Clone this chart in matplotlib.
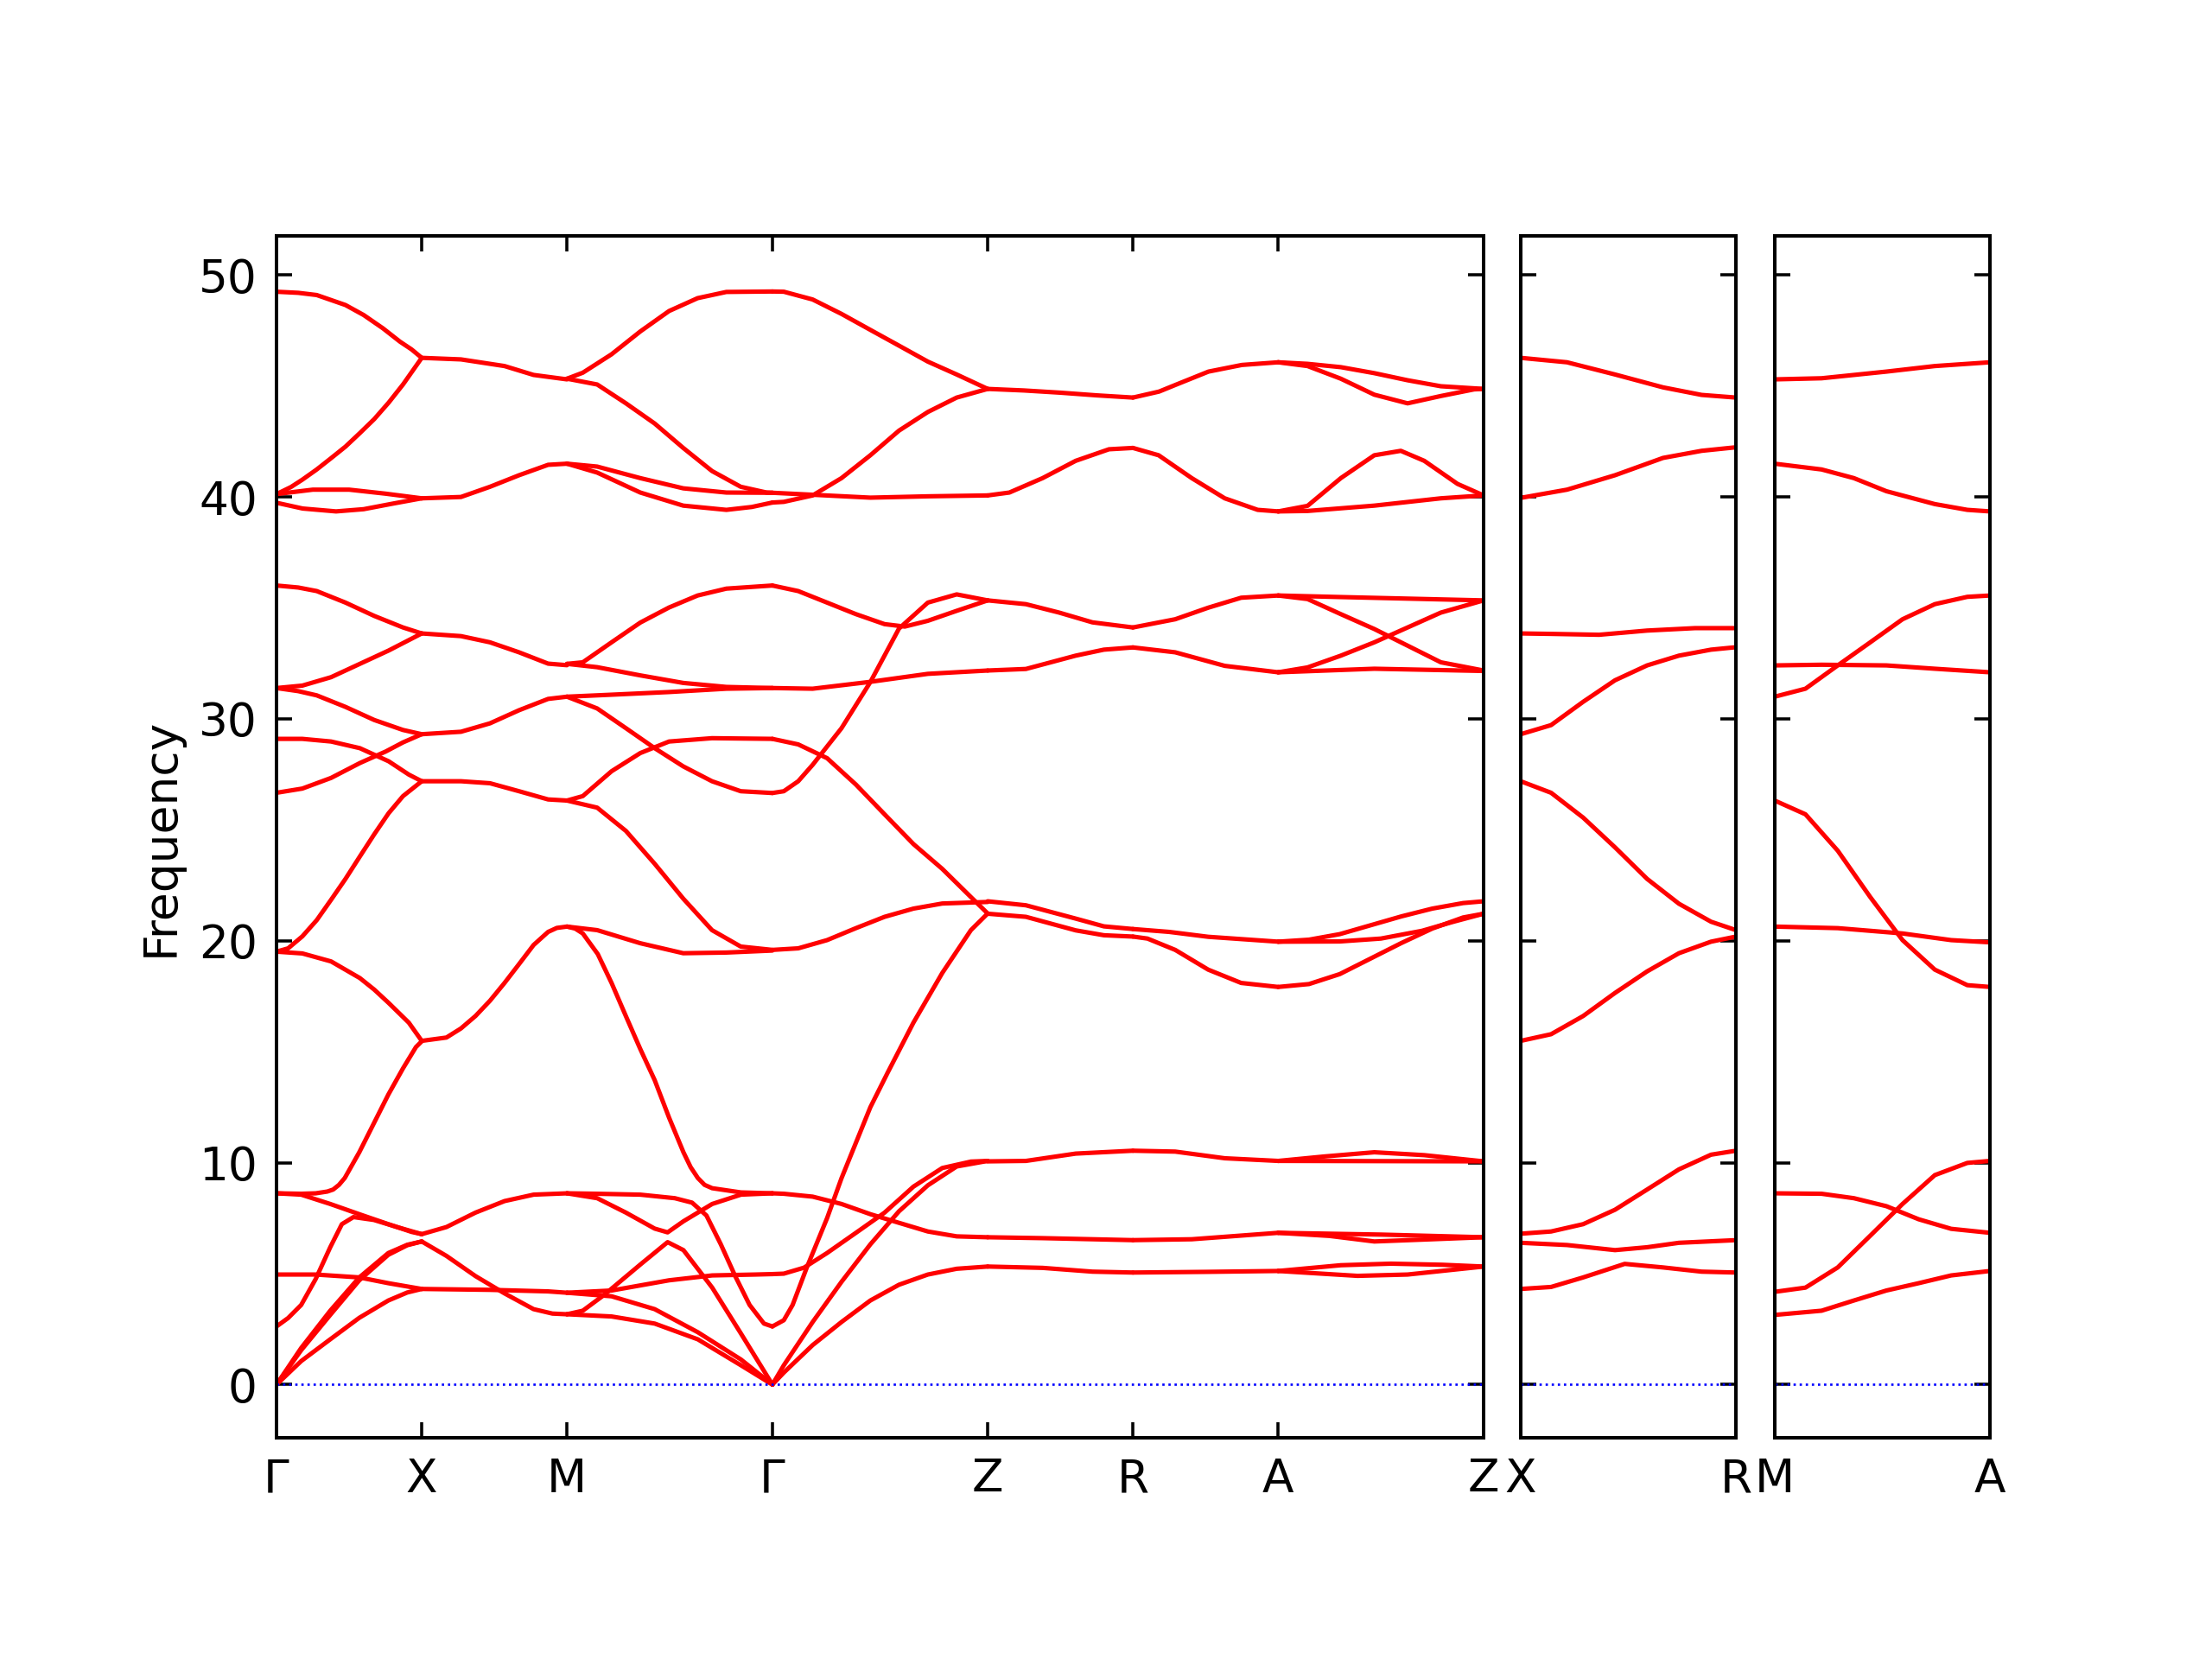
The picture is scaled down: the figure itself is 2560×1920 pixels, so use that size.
import numpy as np
import matplotlib
matplotlib.use("Agg")
import matplotlib.pyplot as plt

plt.rcParams['font.family'] = ['DejaVu Sans']
plt.rcParams['font.size'] = 12

# ---------------- path description ----------------
labels_main = ['Γ', 'X', 'M', 'Γ', 'Z', 'R', 'A', 'Z']
labels_XR = ['X', 'R']
labels_MA = ['M', 'A']
c_ratio = 1.4825
seg_len_main = [1.0, 1.0, 2 ** 0.5, c_ratio, 1.0, 1.0, 2 ** 0.5]
yticks = [0, 10, 20, 30, 40, 50]
ylim = (-2.40, 51.75)

# ---------------- band data: (fraction along segment, frequency) ----------------
seg_GX = [
    [(0, 49.25), (0.15, 49.2), (0.277, 49.1), (0.475, 48.65), (0.6, 48.2), (0.733, 47.6), (0.85, 47.0), (0.93, 46.65), (1, 46.27)],
    [(0, 40.13), (0.1, 40.45), (0.178, 40.78), (0.277, 41.24), (0.376, 41.75), (0.475, 42.27), (0.574, 42.88), (0.673, 43.51), (0.772, 44.25), (0.871, 45.07), (1, 46.27)],
    [(0, 40.13), (0.25, 40.33), (0.5, 40.33), (0.75, 40.15), (1, 39.94)],
    [(0, 39.74), (0.18, 39.48), (0.41, 39.35), (0.6, 39.45), (0.8, 39.7), (1, 39.94)],
    [(0, 36.01), (0.15, 35.92), (0.277, 35.76), (0.475, 35.24), (0.673, 34.64), (0.871, 34.12), (1, 33.85)],
    [(0, 31.39), (0.178, 31.5), (0.376, 31.88), (0.574, 32.48), (0.772, 33.08), (1, 33.85)],
    [(0, 31.39), (0.15, 31.25), (0.277, 31.06), (0.475, 30.54), (0.673, 29.95), (0.871, 29.5), (1, 29.31)],
    [(0, 29.1), (0.178, 29.1), (0.376, 28.98), (0.574, 28.68), (0.772, 28.09), (0.911, 27.49), (1, 27.19)],
    [(0, 26.67), (0.178, 26.86), (0.376, 27.34), (0.574, 28.01), (0.752, 28.53), (0.871, 28.94), (1, 29.31)],
    [(0, 19.51), (0.08, 19.66), (0.178, 20.2), (0.277, 20.93), (0.376, 21.85), (0.475, 22.79), (0.574, 23.8), (0.673, 24.8), (0.772, 25.75), (0.871, 26.52), (1, 27.19)],
    [(0, 19.51), (0.178, 19.43), (0.376, 19.07), (0.574, 18.32), (0.673, 17.8), (0.772, 17.2), (0.911, 16.31), (1, 15.49)],
    [(0, 8.62), (0.17, 8.6), (0.27, 8.62), (0.35, 8.7), (0.39, 8.79), (0.43, 9.0), (0.47, 9.31), (0.57, 10.47), (0.67, 11.77), (0.77, 13.07), (0.87, 14.24), (0.96, 15.21), (1, 15.47)],
    [(0, 8.62), (0.17, 8.56), (0.37, 8.14), (0.57, 7.68), (0.77, 7.23), (0.93, 6.88), (1, 6.78)],
    [(0, 2.62), (0.08, 3.0), (0.17, 3.59), (0.27, 4.76), (0.37, 6.19), (0.45, 7.23), (0.53, 7.55), (0.67, 7.42), (0.83, 7.1), (1, 6.78)],
    [(0, 0), (0.17, 1.65), (0.37, 3.33), (0.57, 4.83), (0.77, 5.93), (0.9, 6.3), (1, 6.45)],
    [(0, 0), (0.17, 1.55), (0.37, 3.14), (0.57, 4.7), (0.77, 5.85), (0.9, 6.28), (1, 6.45)],
    [(0, 0), (0.17, 1.06), (0.37, 2.04), (0.57, 3.01), (0.77, 3.79), (0.9, 4.15), (1, 4.31)],
    [(0, 4.96), (0.27, 4.96), (0.57, 4.83), (0.77, 4.57), (1, 4.31)],
]

seg_XM = [
    [(0, 46.27), (0.27, 46.2), (0.57, 45.9), (0.77, 45.5), (1, 45.3)],
    [(0, 39.94), (0.27, 40.0), (0.47, 40.46), (0.67, 40.98), (0.87, 41.45), (1, 41.5)],
    [(0, 33.85), (0.27, 33.73), (0.47, 33.45), (0.67, 33.0), (0.87, 32.49), (1, 32.42)],
    [(0, 29.31), (0.27, 29.42), (0.47, 29.8), (0.67, 30.39), (0.87, 30.9), (1, 31.0)],
    [(0, 27.19), (0.27, 27.19), (0.47, 27.1), (0.67, 26.74), (0.87, 26.37), (1, 26.32)],
    [(0, 15.49), (0.17, 15.64), (0.27, 16.05), (0.37, 16.61), (0.47, 17.3), (0.57, 18.1), (0.67, 18.95), (0.77, 19.81), (0.87, 20.4), (0.93, 20.58), (1, 20.64)],
    [(0, 6.78), (0.17, 7.1), (0.37, 7.75), (0.57, 8.27), (0.77, 8.56), (1, 8.62)],
    [(0, 6.45), (0.17, 5.8), (0.37, 4.89), (0.57, 4.11), (0.77, 3.4), (0.9, 3.2), (1, 3.17)],
    [(0, 4.31), (0.47, 4.27), (0.87, 4.2), (1, 4.14)],
]

seg_MG = [
    [(0, 45.33), (0.077, 45.6), (0.217, 46.43), (0.357, 47.46), (0.497, 48.38), (0.636, 48.96), (0.776, 49.24), (1, 49.26)],
    [(0, 45.33), (0.147, 45.07), (0.287, 44.22), (0.427, 43.31), (0.566, 42.21), (0.706, 41.17), (0.846, 40.46), (0.972, 40.2), (1, 40.19)],
    [(0, 41.5), (0.147, 41.37), (0.357, 40.85), (0.566, 40.39), (0.776, 40.2), (1, 40.19)],
    [(0, 41.5), (0.147, 41.1), (0.357, 40.2), (0.566, 39.61), (0.776, 39.42), (0.9, 39.55), (1, 39.75)],
    [(0, 32.48), (0.077, 32.55), (0.217, 33.45), (0.357, 34.34), (0.497, 35.02), (0.636, 35.56), (0.776, 35.87), (1, 36.01)],
    [(0, 32.48), (0.147, 32.33), (0.357, 31.96), (0.566, 31.62), (0.776, 31.44), (1, 31.39)],
    [(0, 31.0), (0.217, 31.09), (0.497, 31.21), (0.776, 31.36), (1, 31.39)],
    [(0, 31.0), (0.147, 30.47), (0.287, 29.58), (0.427, 28.68), (0.566, 27.86), (0.706, 27.19), (0.846, 26.74), (1, 26.66)],
    [(0, 26.32), (0.077, 26.52), (0.217, 27.64), (0.357, 28.46), (0.497, 28.98), (0.706, 29.13), (1, 29.1)],
    [(0, 26.32), (0.147, 26.0), (0.287, 24.95), (0.427, 23.47), (0.566, 21.9), (0.706, 20.48), (0.846, 19.74), (1, 19.59)],
    [(0, 20.64), (0.147, 20.48), (0.357, 19.89), (0.566, 19.44), (0.776, 19.47), (1, 19.56)],
    [(0, 20.64), (0.04, 20.55), (0.077, 20.33), (0.15, 19.4), (0.217, 18.1), (0.287, 16.6), (0.357, 15.12), (0.427, 13.72), (0.497, 12.03), (0.567, 10.47), (0.602, 9.8), (0.637, 9.31), (0.67, 9.0), (0.707, 8.85), (0.847, 8.66), (1, 8.62)],
    [(0, 8.62), (0.147, 8.6), (0.357, 8.56), (0.525, 8.4), (0.609, 8.2), (0.679, 7.62), (0.749, 6.32), (0.819, 4.89), (0.889, 3.59), (0.959, 2.75), (1, 2.62)],
    [(0, 8.62), (0.147, 8.4), (0.287, 7.75), (0.427, 7.03), (0.49, 6.86), (0.567, 7.36), (0.707, 8.14), (0.847, 8.56), (1, 8.62)],
    [(0, 3.17), (0.077, 3.33), (0.182, 4.05), (0.357, 5.41), (0.49, 6.42), (0.567, 6.06), (0.707, 4.37), (0.847, 2.3), (1, 0)],
    [(0, 4.14), (0.217, 4.24), (0.497, 4.7), (0.707, 4.92), (0.917, 4.96), (1, 4.98)],
    [(0, 4.14), (0.217, 3.98), (0.427, 3.4), (0.637, 2.36), (0.847, 1.13), (1, 0)],
    [(0, 3.17), (0.217, 3.07), (0.427, 2.75), (0.637, 2.04), (0.847, 0.87), (1, 0)],
]

seg_GZ = [
    [(0, 49.26), (0.053, 49.25), (0.187, 48.9), (0.321, 48.25), (0.455, 47.53), (0.588, 46.82), (0.722, 46.1), (0.856, 45.52), (1, 44.87)],
    [(0, 39.75), (0.053, 39.78), (0.187, 40.07), (0.321, 40.85), (0.455, 41.88), (0.588, 42.99), (0.722, 43.83), (0.856, 44.48), (1, 44.87)],
    [(0, 40.19), (0.187, 40.1), (0.455, 39.97), (0.722, 40.03), (1, 40.07)],
    [(0, 36.01), (0.12, 35.76), (0.254, 35.24), (0.388, 34.72), (0.521, 34.27), (0.615, 34.16), (0.722, 34.42), (0.856, 34.87), (1, 35.34)],
    [(0, 26.66), (0.053, 26.74), (0.12, 27.19), (0.187, 27.93), (0.321, 29.58), (0.455, 31.66), (0.588, 34.07), (0.722, 35.24), (0.856, 35.61), (1, 35.34)],
    [(0, 31.39), (0.187, 31.36), (0.455, 31.67), (0.722, 32.03), (1, 32.18)],
    [(0, 29.1), (0.12, 28.85), (0.254, 28.23), (0.388, 27.04), (0.521, 25.7), (0.655, 24.36), (0.789, 23.24), (0.922, 21.97), (1, 21.23)],
    [(0, 19.59), (0.12, 19.66), (0.254, 20.03), (0.388, 20.57), (0.521, 21.08), (0.655, 21.45), (0.789, 21.68), (1, 21.75)],
    [(0, 2.62), (0.053, 2.9), (0.094, 3.59), (0.16, 5.28), (0.254, 7.5), (0.321, 9.3), (0.455, 12.5), (0.535, 14.05), (0.655, 16.31), (0.789, 18.55), (0.922, 20.48), (1, 21.23)],
    [(0, 8.62), (0.053, 8.6), (0.187, 8.47), (0.321, 8.14), (0.455, 7.68), (0.588, 7.29), (0.722, 6.9), (0.856, 6.68), (1, 6.64)],
    [(0, 4.98), (0.053, 5.0), (0.147, 5.27), (0.254, 5.93), (0.388, 6.84), (0.521, 7.75), (0.655, 8.92), (0.789, 9.76), (0.922, 10.05), (1, 10.08)],
    [(0, 0), (0.053, 0.87), (0.187, 2.82), (0.321, 4.63), (0.455, 6.32), (0.588, 7.81), (0.722, 8.98), (0.856, 9.83), (1, 10.08)],
    [(0, 0), (0.053, 0.54), (0.187, 1.78), (0.321, 2.82), (0.455, 3.79), (0.588, 4.5), (0.722, 4.96), (0.856, 5.22), (1, 5.32)],
]

seg_ZR = [
    [(0, 44.87), (0.25, 44.8), (0.5, 44.7), (0.75, 44.58), (1, 44.48)],
    [(0, 40.07), (0.149, 40.2), (0.378, 40.85), (0.606, 41.63), (0.835, 42.15), (1, 42.21)],
    [(0, 35.34), (0.263, 35.17), (0.492, 34.79), (0.721, 34.35), (1, 34.12)],
    [(0, 32.18), (0.263, 32.25), (0.606, 32.85), (0.8, 33.12), (1, 33.22)],
    [(0, 21.78), (0.263, 21.6), (0.606, 21.0), (0.8, 20.65), (1, 20.53)],
    [(0, 21.22), (0.263, 21.08), (0.606, 20.47), (0.8, 20.25), (1, 20.19)],
    [(0, 10.06), (0.263, 10.08), (0.606, 10.41), (1, 10.54)],
    [(0, 6.64), (0.378, 6.6), (1, 6.51)],
    [(0, 5.32), (0.378, 5.26), (0.721, 5.09), (1, 5.05)],
]

seg_RA = [
    [(0, 44.48), (0.18, 44.75), (0.3, 45.07), (0.52, 45.65), (0.75, 45.95), (1, 46.07)],
    [(0, 42.21), (0.177, 41.88), (0.405, 40.85), (0.632, 39.94), (0.859, 39.42), (1, 39.35)],
    [(0, 34.12), (0.291, 34.49), (0.518, 35.01), (0.745, 35.46), (1, 35.56)],
    [(0, 33.22), (0.291, 33.0), (0.632, 32.39), (1, 32.1)],
    [(0, 20.53), (0.25, 20.4), (0.518, 20.18), (1, 19.96)],
    [(0, 20.19), (0.1, 20.1), (0.291, 19.59), (0.518, 18.7), (0.745, 18.1), (1, 17.92)],
    [(0, 10.54), (0.291, 10.5), (0.632, 10.2), (1, 10.08)],
    [(0, 6.51), (0.405, 6.55), (1, 6.84)],
    [(0, 5.05), (0.5, 5.08), (1, 5.12)],
]

seg_AZ = [
    [(0, 46.07), (0.143, 46.0), (0.305, 45.85), (0.468, 45.58), (0.63, 45.26), (0.792, 44.99), (1, 44.87)],
    [(0, 46.07), (0.143, 45.9), (0.305, 45.33), (0.468, 44.61), (0.63, 44.22), (0.792, 44.55), (0.954, 44.85), (1, 44.87)],
    [(0, 39.35), (0.143, 39.6), (0.305, 40.85), (0.468, 41.88), (0.597, 42.08), (0.711, 41.63), (0.873, 40.59), (1, 40.07)],
    [(0, 39.35), (0.143, 39.37), (0.468, 39.61), (0.792, 39.94), (1, 40.07)],
    [(0, 35.56), (0.305, 35.49), (0.63, 35.42), (1, 35.34)],
    [(0, 35.56), (0.143, 35.4), (0.305, 34.72), (0.468, 34.05), (0.63, 33.3), (0.792, 32.55), (1, 32.18)],
    [(0, 32.1), (0.143, 32.32), (0.305, 32.85), (0.468, 33.45), (0.63, 34.12), (0.792, 34.79), (1, 35.34)],
    [(0, 32.1), (0.468, 32.26), (1, 32.16)],
    [(0, 19.96), (0.15, 20.05), (0.3, 20.3), (0.45, 20.7), (0.6, 21.1), (0.75, 21.45), (0.9, 21.7), (1, 21.78)],
    [(0, 19.96), (0.3, 19.97), (0.5, 20.1), (0.7, 20.45), (0.85, 20.85), (1, 21.22)],
    [(0, 17.92), (0.15, 18.05), (0.3, 18.5), (0.45, 19.2), (0.6, 19.9), (0.75, 20.55), (0.9, 21.05), (1, 21.22)],
    [(0, 10.08), (0.224, 10.28), (0.468, 10.47), (0.711, 10.34), (1, 10.06)],
    [(0, 10.08), (1, 10.06)],
    [(0, 6.84), (0.5, 6.76), (1, 6.64)],
    [(0, 6.84), (0.25, 6.7), (0.468, 6.45), (0.75, 6.55), (1, 6.64)],
    [(0, 5.12), (0.305, 5.38), (0.549, 5.45), (0.8, 5.4), (1, 5.32)],
    [(0, 5.12), (0.386, 4.9), (0.63, 4.96), (1, 5.32)],
]

panel_XR = [
    [(0, 46.27), (0.215, 46.07), (0.438, 45.52), (0.661, 44.94), (0.84, 44.6), (1, 44.48)],
    [(0, 39.96), (0.215, 40.33), (0.438, 40.98), (0.661, 41.76), (0.84, 42.08), (1, 42.24)],
    [(0, 33.85), (0.141, 33.83), (0.364, 33.79), (0.587, 33.98), (0.81, 34.09), (1, 34.09)],
    [(0, 29.31), (0.141, 29.72), (0.29, 30.77), (0.438, 31.74), (0.587, 32.41), (0.735, 32.85), (0.884, 33.12), (1, 33.23)],
    [(0, 27.19), (0.141, 26.67), (0.29, 25.55), (0.438, 24.21), (0.587, 22.79), (0.735, 21.67), (0.884, 20.86), (1, 20.48)],
    [(0, 15.49), (0.141, 15.79), (0.29, 16.61), (0.438, 17.65), (0.587, 18.62), (0.735, 19.44), (0.884, 19.96), (1, 20.19)],
    [(0, 6.8), (0.141, 6.9), (0.29, 7.23), (0.438, 7.88), (0.587, 8.79), (0.735, 9.7), (0.884, 10.36), (1, 10.54)],
    [(0, 6.39), (0.215, 6.29), (0.438, 6.06), (0.587, 6.19), (0.735, 6.39), (1, 6.51)],
    [(0, 4.31), (0.141, 4.4), (0.29, 4.83), (0.483, 5.44), (0.661, 5.28), (0.84, 5.09), (1, 5.05)],
]

panel_MA = [
    [(0, 45.3), (0.218, 45.35), (0.519, 45.65), (0.744, 45.9), (1, 46.07)],
    [(0, 41.5), (0.218, 41.24), (0.368, 40.85), (0.519, 40.26), (0.744, 39.68), (0.895, 39.42), (1, 39.35)],
    [(0, 32.41), (0.218, 32.44), (0.519, 32.41), (0.744, 32.26), (1, 32.1)],
    [(0, 31.0), (0.143, 31.36), (0.293, 32.41), (0.444, 33.45), (0.594, 34.49), (0.744, 35.17), (0.895, 35.5), (1, 35.56)],
    [(0, 26.32), (0.143, 25.7), (0.293, 24.06), (0.444, 21.97), (0.594, 20.03), (0.744, 18.7), (0.895, 18.0), (1, 17.92)],
    [(0, 20.64), (0.293, 20.57), (0.594, 20.33), (0.82, 20.03), (1, 19.93)],
    [(0, 8.62), (0.218, 8.6), (0.368, 8.4), (0.519, 8.04), (0.669, 7.45), (0.82, 7.02), (1, 6.84)],
    [(0, 4.18), (0.143, 4.37), (0.293, 5.28), (0.444, 6.71), (0.594, 8.14), (0.744, 9.44), (0.895, 9.99), (1, 10.08)],
    [(0, 3.14), (0.218, 3.33), (0.368, 3.79), (0.519, 4.24), (0.669, 4.57), (0.82, 4.92), (1, 5.12)],
]

segments_main = [seg_GX, seg_XM, seg_MG, seg_GZ, seg_ZR, seg_RA, seg_AZ]

# ---------------- figure ----------------
fig = plt.figure(figsize=(8, 6), dpi=320)
ax_main = fig.add_axes([0.125, 0.1333, 0.5457, 0.7243])
ax_xr = fig.add_axes([0.6875, 0.1333, 0.0973, 0.7243])
ax_ma = fig.add_axes([0.8023, 0.1333, 0.0973, 0.7243])

line_kw = dict(color='red', lw=1.15, solid_joinstyle='round', solid_capstyle='round')


def draw_segment(ax, curves, x0, length):
    for cv in curves:
        t = np.array([p[0] for p in cv])
        f = np.array([p[1] for p in cv])
        ax.plot(x0 + t * length, f, **line_kw)


bounds = np.concatenate([[0.0], np.cumsum(seg_len_main)])
for i, seg in enumerate(segments_main):
    draw_segment(ax_main, seg, bounds[i], seg_len_main[i])
draw_segment(ax_xr, panel_XR, 0.0, c_ratio)
draw_segment(ax_ma, panel_MA, 0.0, c_ratio)

for ax, xmax in [(ax_main, bounds[-1]), (ax_xr, c_ratio), (ax_ma, c_ratio)]:
    ax.set_xlim(0, xmax)
    ax.set_ylim(*ylim)
    ax.axhline(0, color='blue', ls=':', lw=0.6)
    ax.set_yticks(yticks)
    ax.tick_params(axis='both', direction='in', top=True, right=True,
                   length=4, width=0.8, labelsize=12)
    ax.tick_params(axis='y', pad=5)
    ax.tick_params(axis='x', pad=5)
    for sp in ax.spines.values():
        sp.set_linewidth(0.9)

ax_main.set_xticks(bounds)
ax_main.set_xticklabels(labels_main)
ax_main.set_ylabel('Frequency', fontsize=12)

ax_xr.set_xticks([0, c_ratio])
ax_xr.set_xticklabels(labels_XR)
ax_xr.set_yticklabels([])
ax_ma.set_xticks([0, c_ratio])
ax_ma.set_xticklabels(labels_MA)
ax_ma.set_yticklabels([])

fig.savefig('out.png', dpi=320)
